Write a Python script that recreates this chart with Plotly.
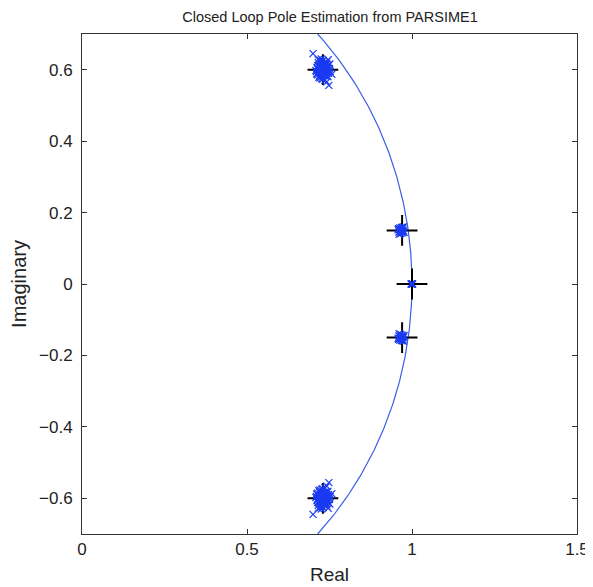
import plotly.graph_objects as go
import numpy as np

# Estimated pole clusters (upper complex pair; lower one is its conjugate)
upper_re = [0.726, 0.737, 0.717, 0.731, 0.745, 0.723, 0.734, 0.712, 0.741, 0.728,
            0.720, 0.749, 0.729, 0.736, 0.715, 0.725, 0.742, 0.733, 0.721, 0.739,
            0.728, 0.718, 0.747, 0.731, 0.726, 0.737, 0.714, 0.734, 0.744, 0.723,
            0.729, 0.751, 0.710, 0.736, 0.725, 0.731, 0.741, 0.720, 0.728, 0.733,
            0.700, 0.757, 0.748, 0.742, 0.716, 0.746,
            0.721, 0.734, 0.715, 0.742, 0.728, 0.709, 0.739, 0.725, 0.750, 0.718,
            0.731, 0.744, 0.723, 0.736, 0.713, 0.729, 0.740, 0.719, 0.733, 0.727,
            0.716, 0.745, 0.737, 0.723, 0.731, 0.711, 0.739, 0.728, 0.752, 0.721]
upper_im = [0.602, 0.611, 0.594, 0.588, 0.605, 0.617, 0.597, 0.607, 0.591, 0.623,
            0.584, 0.598, 0.579, 0.614, 0.601, 0.590, 0.619, 0.604, 0.609, 0.582,
            0.596, 0.613, 0.589, 0.626, 0.575, 0.600, 0.586, 0.620, 0.612, 0.593,
            0.608, 0.616, 0.595, 0.570, 0.630, 0.587, 0.603, 0.606, 0.592, 0.615,
            0.645, 0.587, 0.556, 0.566, 0.628, 0.628,
            0.606, 0.594, 0.611, 0.600, 0.585, 0.598, 0.617, 0.622, 0.603, 0.579,
            0.610, 0.593, 0.625, 0.583, 0.604, 0.573, 0.608, 0.596, 0.618, 0.589,
            0.620, 0.581, 0.599, 0.609, 0.612, 0.588, 0.602, 0.616, 0.595, 0.577]
mid_re = [0.965, 0.972, 0.960, 0.975, 0.968, 0.962, 0.970, 0.958, 0.974, 0.966,
          0.969, 0.963, 0.971, 0.967, 0.961, 0.973, 0.964, 0.970, 0.959, 0.976]
mid_im = [0.150, 0.156, 0.145, 0.148, 0.158, 0.153, 0.143, 0.152, 0.160, 0.141,
          0.149, 0.157, 0.146, 0.154, 0.139, 0.151, 0.147, 0.159, 0.155, 0.144]
real_re = [0.997, 0.999, 1.000, 1.002, 1.001]
real_im = [0.0, 0.0, 0.0, 0.0, 0.0]

# True poles
true_re = [0.73, 0.97, 1.00, 0.97, 0.73]
true_im = [0.60, 0.15, 0.00, -0.15, -0.60]

# Unit circle arc
arc_im = np.linspace(-0.7, 0.7, 301)
arc_re = np.sqrt(1 - arc_im ** 2)

est_re = upper_re + upper_re + mid_re + mid_re + real_re
est_im = upper_im + [-v for v in upper_im] + mid_im + [-v for v in mid_im] + real_im

BLUE = "#1a3af2"
fig = go.Figure()
fig.add_trace(go.Scatter(x=arc_re, y=arc_im, mode="lines",
                         line=dict(color="#3a5ee8", width=1.2), hoverinfo="skip"))
fig.add_trace(go.Scatter(x=true_re, y=true_im, mode="markers",
                         marker=dict(symbol="cross-thin", size=22, color="black",
                                     line=dict(color="black", width=2))))
fig.add_trace(go.Scatter(x=est_re, y=est_im, mode="markers",
                         marker=dict(symbol="x-thin", size=7, color=BLUE,
                                     line=dict(color=BLUE, width=1.2))))

axis_common = dict(showgrid=False, zeroline=False, showline=True, linecolor="#333333",
                   linewidth=1, mirror="ticks", ticks="inside", ticklen=5,
                   tickcolor="#333333", tickfont=dict(size=17, color="#222222"),
                   automargin=False)
fig.update_layout(
    width=593, height=587,
    margin=dict(l=74, r=24, t=26, b=61, autoexpand=False),
    paper_bgcolor="white", plot_bgcolor="white",
    showlegend=False,
    font=dict(family="Liberation Sans, Arial, sans-serif", color="#222222"),
    title=dict(text="Closed Loop Pole Estimation from PARSIME1", x=0.543, xanchor="center",
               xref="container", yref="container",
               y=0.985, yanchor="middle", font=dict(size=14.5, color="#222222"),
               automargin=False),
    xaxis=dict(range=[0, 1.5], tickvals=[0, 0.5, 1, 1.5], ticktext=["0", "0.5", "1", "1.5"],
               title=dict(text="Real", font=dict(size=19), standoff=9), **axis_common),
    yaxis=dict(range=[-0.7, 0.7], tickvals=[-0.6, -0.4, -0.2, 0, 0.2, 0.4, 0.6],
               ticktext=["\u22120.6", "\u22120.4", "\u22120.2", "0", "0.2", "0.4", "0.6"],
               ticklabelstandoff=5,
               title=dict(text="Imaginary", font=dict(size=20), standoff=10), **axis_common),
)
fig.write_html("out.html")
